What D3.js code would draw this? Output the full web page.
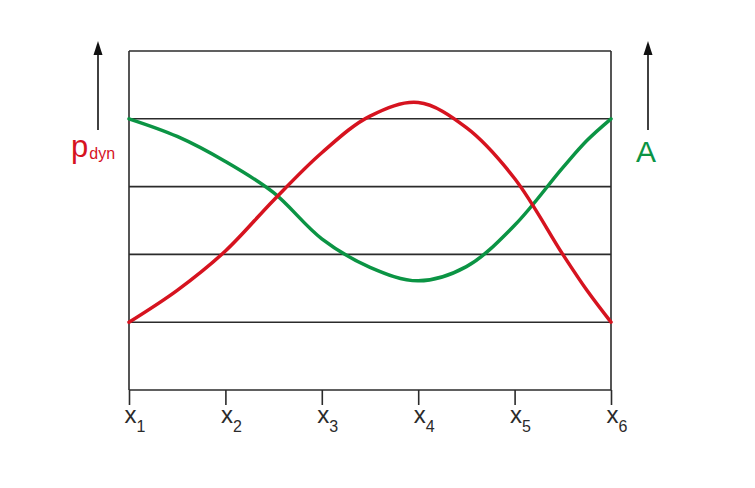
<!DOCTYPE html>
<html><head><meta charset="utf-8">
<script src="https://cdn.jsdelivr.net/npm/d3@7"></script>
<style>body{margin:0;background:#fff}svg{display:block}</style>
</head><body>
<script>
// categories / tick labels
const tickLabels = ["1","2","3","4","5","6"];
const gridLevels = [0,1,2,3,4,5];
// sample positions along x (0..5 = x1..x6)
const samplePos = [0,0.5,1,1.5,2,2.5,3,3.5,4,4.5,4.75,5];
// p_dyn (red) series values (band units 0..5)
const redY = [1.0,1.47,2.05,2.80,3.50,4.04,4.24,3.87,3.12,2.0,1.47,1.0];
// A (green) series values
const greenY = [4.0,3.74,3.37,2.91,2.23,1.81,1.61,1.82,2.43,3.28,3.68,4.0];

const W=755,H=488;
const svg=d3.select("body").append("svg").attr("width",W).attr("height",H);
const x=d3.scaleLinear().domain([0,5]).range([129,611]);
const y=d3.scaleLinear().domain([0,5]).range([390,51]);
const ink="#2b2b2b", red="#d6131f", green="#0b9444";
const font="'Liberation Sans', Arial, sans-serif";

// grid horizontal lines
svg.append("g").selectAll("line").data(gridLevels).join("line")
  .attr("x1",x(0)).attr("x2",x(5)).attr("y1",d=>y(d)).attr("y2",d=>y(d))
  .attr("stroke",ink).attr("stroke-width",1.6);
// vertical frame
svg.append("g").selectAll("line").data([0,5]).join("line")
  .attr("x1",d=>x(d)).attr("x2",d=>x(d)).attr("y1",y(5)).attr("y2",y(0))
  .attr("stroke",ink).attr("stroke-width",1.6);

// x axis ticks
const ax=svg.append("g").attr("transform",`translate(0,${y(0)})`)
  .call(d3.axisBottom(x).tickValues(d3.range(6)).tickSize(15).tickSizeOuter(0).tickFormat((d,i)=>tickLabels[i]));
ax.select(".domain").remove();
ax.selectAll(".tick line").attr("stroke",ink).attr("stroke-width",1.6);
ax.selectAll(".tick text").each(function(d,i){
  const t=d3.select(this); t.text(null);
  t.attr("y",33).attr("dy",null).attr("fill",ink).attr("font-family",font).attr("text-anchor","start").attr("x",-5);
  t.append("tspan").attr("font-size",24).text("x");
  t.append("tspan").attr("font-size",16).attr("dy",9).text(tickLabels[i]);
});

// curves
const line=d3.line().x(d=>x(d[0])).y(d=>y(d[1])).curve(d3.curveCatmullRom.alpha(0.5));
svg.append("path").datum(samplePos.map((v,i)=>[v,greenY[i]])).attr("d",line)
  .attr("fill","none").attr("stroke",green).attr("stroke-width",3.5).attr("stroke-linecap","round");
svg.append("path").datum(samplePos.map((v,i)=>[v,redY[i]])).attr("d",line)
  .attr("fill","none").attr("stroke",red).attr("stroke-width",3.5).attr("stroke-linecap","round");

// arrows
[98,648].forEach(ax=>{
  svg.append("line").attr("x1",ax).attr("x2",ax).attr("y1",130).attr("y2",54)
    .attr("stroke","#111").attr("stroke-width",1.6);
  svg.append("path").attr("d",`M${ax-4.5},55 L${ax},41 L${ax+4.5},55 Z`).attr("fill","#111");
});

// labels
const pl=svg.append("text").attr("x",71).attr("y",157).attr("fill",red).attr("font-family",font);
pl.append("tspan").attr("font-size",31).text("p");
pl.append("tspan").attr("font-size",16).attr("dx",1).attr("dy",2).text("dyn");
svg.append("text").attr("x",636).attr("y",162).attr("fill",green).attr("font-family",font)
  .attr("font-size",30).text("A");
</script>
</body></html>
